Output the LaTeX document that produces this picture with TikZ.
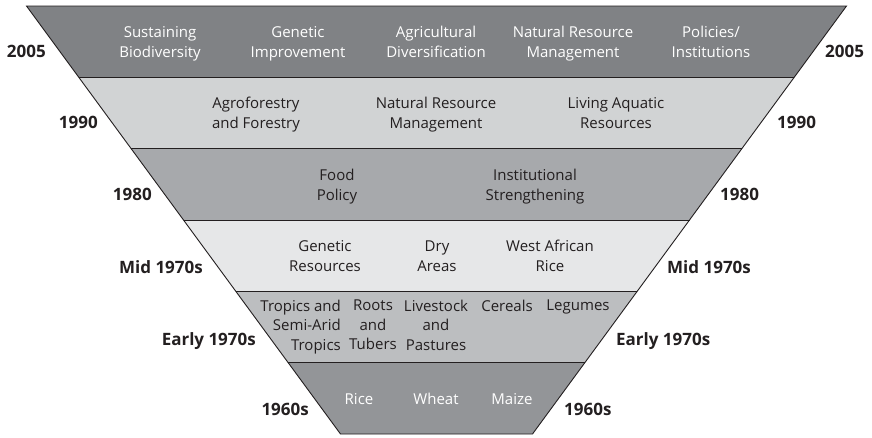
\documentclass[tikz,border=0pt]{standalone}
\usepackage{fontspec}
\setmainfont{Open Sans}
\usetikzlibrary{calc}
\definecolor{ink}{HTML}{231F20}
\definecolor{bandA}{HTML}{808285}
\definecolor{bandB}{HTML}{D1D3D4}
\definecolor{bandC}{HTML}{A7A9AC}
\definecolor{bandD}{HTML}{E6E7E8}
\definecolor{bandE}{HTML}{BCBEC0}
\definecolor{bandF}{HTML}{939598}
\newcommand\twol[2]{\strut #1\\\strut #2}
\begin{document}
\begin{tikzpicture}[x=1pt,y=-1pt,
  item/.style={inner sep=0pt, align=center, font=\fontsize{15}{20}\selectfont, text=ink},
  itemw/.style={item, text=white},
  itemt/.style={item, anchor=north, font=\fontsize{15}{19.3}\selectfont},
  yearl/.style={inner sep=0pt, anchor=base east, font=\fontsize{17}{20}\selectfont\bfseries, text=ink},
  yearr/.style={yearl, anchor=base west},
  edge/.style={draw=ink, line width=0.9pt}]
\useasboundingbox[fill=white] (0,0) rectangle (872,437);
\coordinate (TL) at (26.5,6);
\coordinate (TR) at (846.5,6);
\coordinate (BL) at (340.5,434);
\coordinate (BR) at (532.5,434);
\foreach \i/\c in {0/bandA,1/bandB,2/bandC,3/bandD,4/bandE,5/bandF}{
  \pgfmathsetmacro\a{\i/6}
  \pgfmathsetmacro\b{(\i+1)/6}
  \fill[\c] ($(TL)!\a!(BL)$) -- ($(TR)!\a!(BR)$) -- ($(TR)!\b!(BR)$) -- ($(TL)!\b!(BL)$) -- cycle;
}
\foreach \i in {1,...,5}{
  \pgfmathsetmacro\a{\i/6}
  \draw[edge] ($(TL)!\a!(BL)$) -- ($(TR)!\a!(BR)$);
}
\draw[edge, line join=miter] (TL) -- (TR) -- (BR) -- (BL) -- cycle;

% band 1
\node[itemw] (a1) at (160,43) {\twol{Sustaining}{Biodiversity}};
\node[itemw] (a2) at (298,43) {\twol{Genetic}{Improvement}};
\node[itemw] (a3) at (436,43) {\twol{Agricultural}{Diversification}};
\node[itemw] (a4) at (573,43) {\twol{Natural Resource}{Management}};
\node[itemw] (a5) at (711,43) {\twol{Policies/}{Institutions}};
% band 2
\node[item] (b1) at (256,114) {\twol{Agroforestry}{and Forestry}};
\node[item] (b2) at (436,114) {\twol{Natural Resource}{Management}};
\node[item] (b3) at (616,114) {\twol{Living Aquatic}{Resources}};
% band 3
\node[item] (c1) at (337,186) {\twol{Food}{Policy}};
\node[item] (c2) at (535,186) {\twol{Institutional}{Strengthening}};
% band 4
\node[item] (d1) at (325,257) {\twol{Genetic}{Resources}};
\node[item] (d2) at (437,257) {\twol{Dry}{Areas}};
\node[item] (d3) at (550,257) {\twol{West African}{Rice}};
% band 5
\node[itemt, anchor=north east, align=right] (e1) at (341,300) {Tropics and\\Semi-Arid\\Tropics};
\node[itemt] (e2) at (373,300) {Roots\\and\\Tubers};
\node[itemt] (e3) at (436,300) {Livestock\\and\\Pastures};
\node[itemt] (e4) at (507,300) {Cereals};
\node[itemt] (e5) at (578,300) {Legumes};
% band 6
\node[itemw] (f1) at (359,399) {Rice};
\node[itemw] (f2) at (436,399) {Wheat};
\node[itemw] (f3) at (512,399) {Maize};

% year labels
\node[yearl] (l1) at (46,57) {2005};
\node[yearl] (l2) at (98,128) {1990};
\node[yearl] (l3) at (152,200) {1980};
\node[yearl] (l4) at (203,273) {Mid 1970s};
\node[yearl] (l5) at (256,345) {Early 1970s};
\node[yearl] (l6) at (309,415) {1960s};
\node[yearr] (r1) at (825,57) {2005};
\node[yearr] (r2) at (777,128) {1990};
\node[yearr] (r3) at (720,200) {1980};
\node[yearr] (r4) at (667,273) {Mid 1970s};
\node[yearr] (r5) at (616,345) {Early 1970s};
\node[yearr] (r6) at (564,415) {1960s};
\end{tikzpicture}
\end{document}
